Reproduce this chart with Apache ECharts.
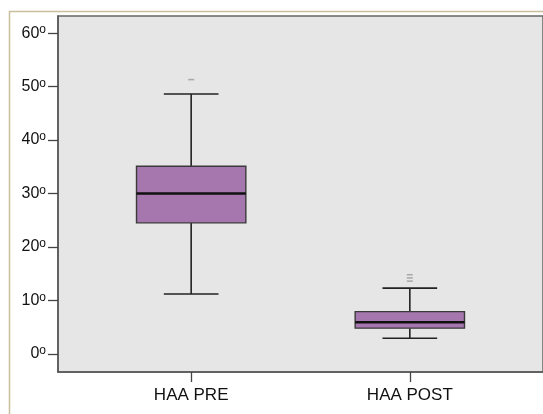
<!DOCTYPE html>
<html>
<head>
<meta charset="utf-8">
<script src="https://cdn.jsdelivr.net/npm/echarts@6/dist/echarts.min.js"></script>
<style>
  html, body { margin: 0; padding: 0; background: #fff; }
  #main { width: 543px; height: 414px; }
</style>
</head>
<body>
<div id="main"></div>
<script>
var myChart = echarts.init(document.getElementById('main'));

// box summaries
const categories = ['HAA PRE', 'HAA POST'];
const minVals = [11.2, 2.9];
const q1Vals = [24.5, 4.8];
const medianVals = [30.0, 5.9];
const q3Vals = [35.1, 7.9];
const maxVals = [48.6, 12.3];
const outliers = [[51.3], [13.6, 14.2, 14.8]];
const yTicks = [0, 10, 20, 30, 40, 50, 60];

let boxData = [];
let outlierData = [];
for (let i = 0; i < categories.length; i++) {
  boxData.push([i + 1, minVals[i], q1Vals[i], medianVals[i], q3Vals[i], maxVals[i]]);
  for (let j = 0; j < outliers[i].length; j++) {
    outlierData.push([i + 1, outliers[i][j]]);
  }
}

const lineColor = '#222';

function renderBox(params, api) {
  const x = api.value(0);
  const lo = api.coord([x, api.value(1)]);
  const q1 = api.coord([x, api.value(2)]);
  const med = api.coord([x, api.value(3)]);
  const q3 = api.coord([x, api.value(4)]);
  const hi = api.coord([x, api.value(5)]);
  const bw = api.size([0.5, 0])[0];
  const cw = api.size([0.25, 0])[0];
  const cx = lo[0];
  const lineStyle = { stroke: lineColor, lineWidth: 1.6 };
  return {
    type: 'group',
    children: [
      { type: 'line', shape: { x1: cx, y1: lo[1], x2: cx, y2: q1[1] }, style: lineStyle },
      { type: 'line', shape: { x1: cx, y1: q3[1], x2: cx, y2: hi[1] }, style: lineStyle },
      { type: 'line', shape: { x1: cx - cw / 2, y1: lo[1], x2: cx + cw / 2, y2: lo[1] }, style: lineStyle },
      { type: 'line', shape: { x1: cx - cw / 2, y1: hi[1], x2: cx + cw / 2, y2: hi[1] }, style: lineStyle },
      { type: 'rect', shape: { x: cx - bw / 2, y: q3[1], width: bw, height: q1[1] - q3[1] },
        style: { fill: '#a677ae', stroke: '#3a3a3a', lineWidth: 1.4 } },
      { type: 'line', shape: { x1: cx - bw / 2, y1: med[1], x2: cx + bw / 2, y2: med[1] },
        style: { stroke: '#111', lineWidth: 2.6 } }
    ]
  };
}

var option = {
  animation: false,
  graphic: [
    {
      type: 'rect',
      left: 7, top: 9,
      shape: { width: 600, height: 500 },
      style: { fill: 'none', stroke: '#c9bf9c', lineWidth: 1.5 },
      z: -10
    }
  ],
  grid: {
    left: 58, top: 16, width: 488, bottom: 42,
    show: true,
    backgroundColor: '#e6e6e6',
    borderColor: '#666',
    borderWidth: 1.5
  },
  xAxis: {
    type: 'value',
    min: 0.391,
    max: 2.609,
    splitLine: { show: false },
    axisLine: { onZero: false, lineStyle: { color: '#555', width: 1.5 } },
    axisTick: { customValues: [1, 2], length: 10, lineStyle: { color: '#444', width: 1.3 } },
    axisLabel: {
      customValues: [1, 2],
      margin: 15,
      color: '#111',
      fontFamily: 'Liberation Sans',
      fontSize: 17,
      formatter: function (v) { return categories[Math.round(v) - 1]; }
    }
  },
  yAxis: {
    type: 'value',
    min: -3.4,
    max: 63.2,
    splitLine: { show: false },
    axisLine: { onZero: false, lineStyle: { color: '#555', width: 1.5 } },
    axisTick: { customValues: yTicks, length: 10, lineStyle: { color: '#444', width: 1.3 } },
    axisLabel: {
      customValues: yTicks,
      margin: 12,
      color: '#111',
      fontFamily: 'Liberation Sans',
      fontSize: 16,
      formatter: function (v) { return '{d|' + v + '}{o|o}'; },
      rich: {
        d: { fontSize: 16, lineHeight: 18, fontFamily: 'Liberation Sans', color: '#111' },
        o: { fontSize: 12, lineHeight: 12, verticalAlign: 'top', fontFamily: 'Liberation Sans', color: '#111' }
      }
    }
  },
  series: [
    {
      type: 'custom',
      renderItem: renderBox,
      data: boxData,
      encode: { x: 0, y: [1, 2, 3, 4, 5] },
      z: 3
    },
    {
      type: 'scatter',
      data: outlierData,
      symbol: 'rect',
      symbolSize: [6, 1.5],
      itemStyle: { color: '#999' },
      z: 4
    }
  ]
};

myChart.setOption(option);
</script>
</body>
</html>
